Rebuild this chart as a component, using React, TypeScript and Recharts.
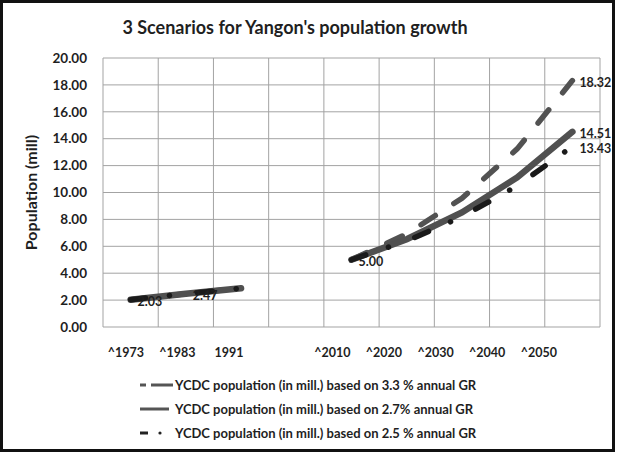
import React from 'react';
import { LineChart, Line, XAxis, YAxis, CartesianGrid, LabelList, Legend } from 'recharts';

const categories = ['1973', '1983', '1991', '2000', '2010', '2020', '2030', '2040', '2050'];
const tickLabels = ['^1973', '^1983', '1991', '', '^2010', '^2020', '^2030', '^2040', '^2050'];
const gr33 = [2.03, 2.47, 2.88, null, 5.0, 6.92, 9.57, 13.24, 18.32];
const gr27 = [2.03, 2.47, 2.88, null, 5.0, 6.53, 8.52, 11.12, 14.51];
const gr25 = [2.03, 2.47, 2.88, null, 5.0, 6.4, 8.19, 10.49, 13.43];
const yTicks = [0, 2, 4, 6, 8, 10, 12, 14, 16, 18, 20];
const labeled33 = [0, 1, 4, 8];
const labeled27 = [8];
const labeled25 = [8];

const seriesNames = [
  'YCDC population (in mill.) based on 3.3 % annual GR',
  'YCDC population (in mill.) based on 2.7% annual GR',
  'YCDC population (in mill.) based on 2.5 % annual GR',
];

const data = categories.map((c, i) => ({
  year: c,
  g33: gr33[i],
  g27: gr27[i],
  g25: gr25[i],
}));

const FONT = 'Lato, "Open Sans", sans-serif';
const TXT = '#1f1f1f';
const W = 641;
const H = 462;
const M = { top: 58, right: 41, left: 0, bottom: 105 };
const YW = 103;
const plotW = W - M.right - M.left - YW;
const pad = plotW / 18;

const makeLabel = (idxs: number[]) => (props: any) => {
  const { x, y, value, index } = props;
  if (value == null || !idxs.includes(index)) return null;
  return (
    <text x={x + 7} y={y + 2} fontFamily={FONT} fontWeight={700} fontSize={12.5} fill={TXT} dominantBaseline="central">
      {Number(value).toFixed(2)}
    </text>
  );
};

const XTick = (props: any) => {
  const { x, y, payload, index } = props;
  const left = M.left + YW;
  const lx = left + (x - left) * 0.935 - 3;
  const i = typeof index === 'number' ? index : categories.indexOf(payload.value);
  return (
    <text x={lx} y={y} fontFamily={FONT} fontWeight={700} fontSize={12.5} fill={TXT} textAnchor="middle" dominantBaseline="central">
      {tickLabels[i]}
    </text>
  );
};

const YLabel = (props: any) => {
  const vb = props.viewBox || { x: 0, y: M.top, width: YW, height: 269 };
  const cx = vb.x + 30;
  const cy = vb.y + vb.height / 2;
  return (
    <text x={cx} y={cy} transform={`rotate(-90, ${cx}, ${cy})`} textAnchor="middle" dominantBaseline="central"
      fontFamily={FONT} fontWeight={700} fontSize={16} fill={TXT}>
      Population (mill)
    </text>
  );
};

const LegendContent = () => {
  const rows = [
    (
      <svg width={35} height={10} style={{ display: 'block' }}>
        <line x1={1} y1={5} x2={7} y2={5} stroke="#555" strokeWidth={3} />
        <line x1={12} y1={5} x2={34} y2={5} stroke="#555" strokeWidth={3} />
      </svg>
    ),
    (
      <svg width={35} height={10} style={{ display: 'block' }}>
        <line x1={1} y1={5} x2={30} y2={5} stroke="#555" strokeWidth={3} />
      </svg>
    ),
    (
      <svg width={35} height={10} style={{ display: 'block' }}>
        <line x1={1} y1={5} x2={9} y2={5} stroke="#222" strokeWidth={3} />
        <circle cx={21} cy={5} r={1.6} fill="#222" />
      </svg>
    ),
  ];
  return (
    <div style={{ position: 'relative', width: W, height: 72 }}>
      {seriesNames.map((n, i) => (
        <div key={n} style={{ position: 'absolute', left: 139, top: i * 24, height: 24, display: 'flex', alignItems: 'center' }}>
          {rows[i]}
          <span style={{ fontFamily: FONT, fontWeight: 700, fontSize: 13, color: TXT, whiteSpace: 'nowrap', marginLeft: 1 }}>{n}</span>
        </div>
      ))}
    </div>
  );
};

export default function App() {
  return (
    <div style={{ position: 'absolute', left: 0, top: 0, width: W, height: H, background: '#fff' }}>
      <LineChart width={W} height={H} data={data} margin={M}>
        <CartesianGrid
          stroke="#a3a3a3"
          strokeWidth={1}
          verticalCoordinatesGenerator={({ offset }: any) =>
            Array.from({ length: 10 }, (_, i) => offset.left + (offset.width * i) / 9)
          }
        />
        <XAxis
          dataKey="year"
          padding={{ left: pad, right: pad }}
          axisLine={false}
          tickLine={false}
          tickSize={0}
          tickMargin={25}
          height={30}
          interval={0}
          tick={<XTick />}
        />
        <YAxis
          domain={[0, 20]}
          ticks={yTicks}
          width={YW}
          axisLine={false}
          tickLine={false}
          tickSize={0}
          tickMargin={16}
          tickFormatter={(v: number) => v.toFixed(2)}
          tick={{ fontFamily: FONT, fontWeight: 700, fontSize: 13.5, fill: TXT }}
          label={<YLabel />}
        />
        <Legend
          layout="vertical"
          align="center"
          verticalAlign="middle"
          wrapperStyle={{ position: 'absolute', top: 373, left: 0, width: W }}
          content={<LegendContent />}
        />
        <Line
          type="linear"
          dataKey="g33"
          name={seriesNames[0]}
          stroke="#525252"
          strokeWidth={5.5}
          strokeDasharray="17 22"
          strokeLinecap="round"
          dot={false}
          activeDot={false}
          isAnimationActive={false}
        >
          <LabelList dataKey="g33" content={makeLabel(labeled33)} />
        </Line>
        <Line
          type="linear"
          dataKey="g27"
          name={seriesNames[1]}
          stroke="#505050"
          strokeWidth={6.5}
          strokeLinecap="round"
          dot={false}
          activeDot={false}
          isAnimationActive={false}
        >
          <LabelList dataKey="g27" content={makeLabel(labeled27)} />
        </Line>
        <Line
          type="linear"
          dataKey="g25"
          name={seriesNames[2]}
          stroke="#1a1a1a"
          strokeWidth={5.5}
          strokeDasharray="15 24 0.1 28"
          strokeLinecap="round"
          dot={false}
          activeDot={false}
          isAnimationActive={false}
        >
          <LabelList dataKey="g25" content={makeLabel(labeled25)} />
        </Line>
      </LineChart>
      <div style={{ position: 'absolute', left: 0, top: 15, width: 590, textAlign: 'center', fontFamily: FONT, fontWeight: 700, fontSize: 18, lineHeight: '24px', color: TXT }}>
        3 Scenarios for Yangon's population growth
      </div>
      <div style={{ position: 'absolute', left: 0, top: 0, width: 615, height: 452, boxSizing: 'border-box', border: '3px solid #111', pointerEvents: 'none' }} />
    </div>
  );
}
